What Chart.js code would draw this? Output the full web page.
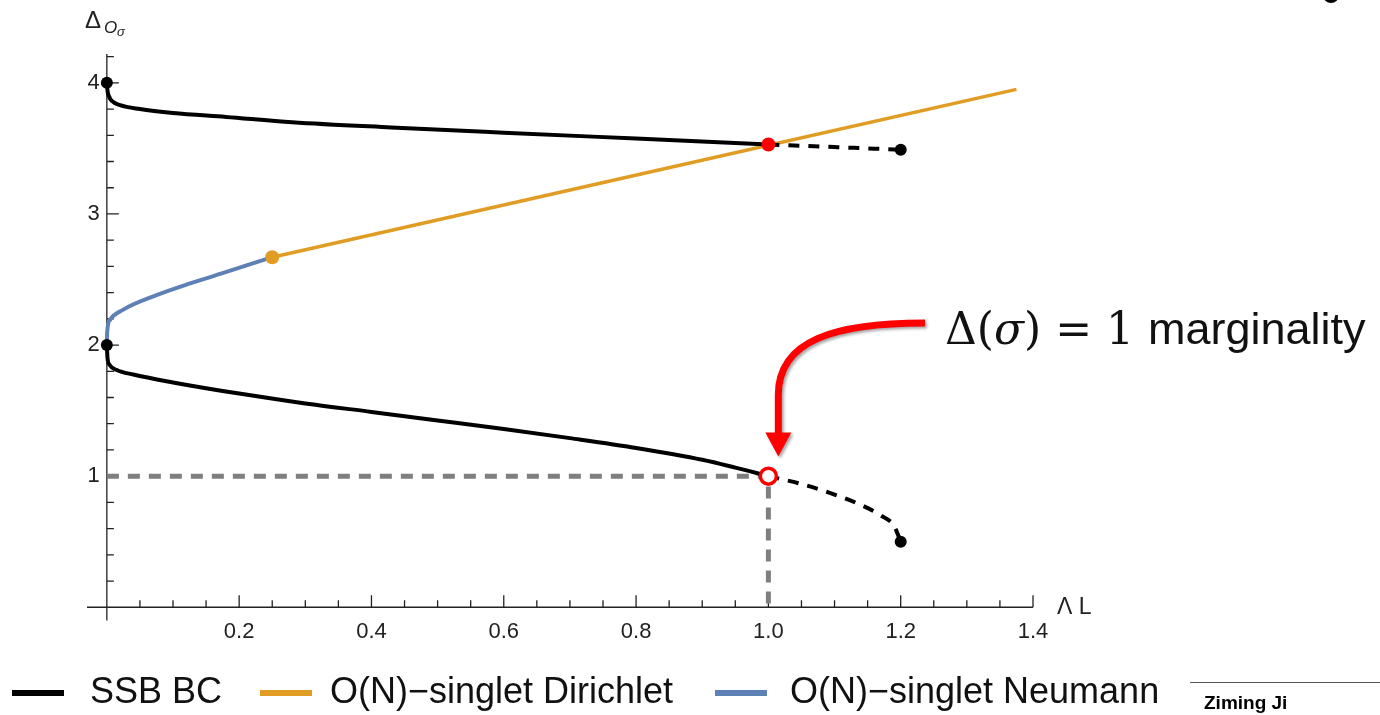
<!DOCTYPE html>
<html>
<head>
<meta charset="utf-8">
<script src="https://cdn.jsdelivr.net/npm/chart.js@4.4.1/dist/chart.umd.min.js"></script>
<style>
  html, body { margin: 0; padding: 0; background: #fff; }
  #wrap { width: 1380px; height: 715px; position: relative; }
</style>
</head>
<body>
<div id="wrap"><canvas id="plot" width="1380" height="715"></canvas></div>
<script>
// --- values ---
var ssbUpperX = [0, 0.001, 0.003, 0.008, 0.02, 0.05, 0.1, 0.18, 0.28, 0.43, 0.6, 0.8, 1.0];
var ssbUpperY = [4.0, 3.94, 3.9, 3.86, 3.83, 3.80, 3.77, 3.74, 3.70, 3.66, 3.62, 3.575, 3.53];
var ssbUpperDashX = [1.0, 1.1, 1.2];
var ssbUpperDashY = [3.53, 3.51, 3.49];

var ssbLowerX = [0, 0.001, 0.004, 0.015, 0.04, 0.1, 0.2, 0.3, 0.4, 0.5, 0.6, 0.7, 0.8, 0.9, 0.95, 1.0];
var ssbLowerY = [2.0, 1.9, 1.85, 1.81, 1.775, 1.715, 1.63, 1.555, 1.49, 1.425, 1.36, 1.29, 1.215, 1.125, 1.065, 1.0];
var ssbLowerDashX = [1.0, 1.05, 1.1, 1.14, 1.17, 1.19, 1.2];
var ssbLowerDashY = [1.0, 0.94, 0.86, 0.78, 0.70, 0.62, 0.5];

var neumannX = [0, 0.0005, 0.0045, 0.025, 0.075, 0.126, 0.176, 0.25];
var neumannY = [2.0, 2.1, 2.19, 2.27, 2.38, 2.47, 2.55, 2.67];

var dirichletX = [0.25, 1.375];
var dirichletY = [2.67, 3.95];

var blackDotX = [0, 0, 1.2, 1.2];
var blackDotY = [4, 2, 3.49, 0.5];

var marginalX = [0, 1, 1];
var marginalY = [1, 1, 0];

var xTickLabels = ["0.2", "0.4", "0.6", "0.8", "1.0", "1.2", "1.4"];
var yTickLabels = ["1", "2", "3", "4"];

var legendNames = ["SSB BC", "O(N)\u2212singlet Dirichlet", "O(N)\u2212singlet Neumann"];
var legendColors = ["#000000", "#E19C24", "#5E81B5"];

function pts(xs, ys) {
    var out = [];
    for (var i = 0; i < xs.length; i++) out.push({x: xs[i], y: ys[i]});
    return out;
}

var axesPlugin = {
    id: 'mmaAxes',
    beforeDatasetsDraw: function(chart) {
        var ctx = chart.ctx, xs = chart.scales.x, ys = chart.scales.y;
        var x0 = xs.getPixelForValue(0), y0 = ys.getPixelForValue(0);
        ctx.save();
        ctx.strokeStyle = '#222';
        ctx.lineWidth = 1.3;
        ctx.beginPath();
        ctx.moveTo(xs.getPixelForValue(-0.03), y0);
        ctx.lineTo(xs.getPixelForValue(1.4), y0);
        ctx.moveTo(x0, ys.getPixelForValue(-0.1));
        ctx.lineTo(x0, ys.getPixelForValue(4.22));
        // x ticks every 0.05, major every 0.2
        for (var k = 1; k <= 28; k++) {
            var v = k * 0.05, px = xs.getPixelForValue(v);
            var len = (k % 4 === 0) ? 12 : 7;
            ctx.moveTo(px, y0);
            ctx.lineTo(px, y0 - len);
        }
        // y ticks every 0.2, major every 1
        for (var j = 1; j <= 21; j++) {
            var w = j * 0.2, py = ys.getPixelForValue(w);
            var l2 = (j % 5 === 0) ? 12 : 7;
            ctx.moveTo(x0, py);
            ctx.lineTo(x0 + l2, py);
        }
        ctx.stroke();

        ctx.fillStyle = '#222';
        ctx.font = '22px "Liberation Sans", Arial, sans-serif';
        ctx.textAlign = 'center';
        ctx.textBaseline = 'top';
        xTickLabels.forEach(function(t) {
            ctx.fillText(t, xs.getPixelForValue(parseFloat(t)), y0 + 14);
        });
        ctx.textAlign = 'right';
        ctx.textBaseline = 'middle';
        yTickLabels.forEach(function(t) {
            ctx.fillText(t, x0 - 7, ys.getPixelForValue(parseFloat(t)));
        });

        // axis labels
        ctx.textAlign = 'left';
        ctx.textBaseline = 'alphabetic';
        ctx.font = '24px "Liberation Sans", Arial, sans-serif';
        ctx.fillText('\u0394', 85, 28);
        ctx.font = 'italic 17px "Liberation Sans", Arial, sans-serif';
        ctx.fillText('O', 104, 33);
        ctx.font = 'italic 13px "Liberation Sans", Arial, sans-serif';
        ctx.fillText('\u03c3', 117, 36);
        ctx.font = '23px "Liberation Sans", Arial, sans-serif';
        ctx.textBaseline = 'middle';
        ctx.fillText('\u039b L', xs.getPixelForValue(1.4) + 24, y0);
        ctx.restore();
    },
    afterDraw: function(chart) {
        var ctx = chart.ctx;
        ctx.save();
        // legend
        var lx = [12, 260, 715];
        var tx = [90, 330, 790];
        ctx.font = '36px "Liberation Sans", Arial, sans-serif';
        ctx.textBaseline = 'middle';
        ctx.textAlign = 'left';
        for (var i = 0; i < 3; i++) {
            ctx.strokeStyle = legendColors[i];
            ctx.lineWidth = 6;
            ctx.beginPath();
            ctx.moveTo(lx[i], 693);
            ctx.lineTo(lx[i] + 52, 693);
            ctx.stroke();
            ctx.fillStyle = '#111';
            ctx.fillText(legendNames[i], tx[i], 693);
        }
        // footer
        ctx.strokeStyle = '#555';
        ctx.lineWidth = 1;
        ctx.beginPath();
        ctx.moveTo(1190, 682.5);
        ctx.lineTo(1380, 682.5);
        ctx.stroke();
        ctx.fillStyle = '#000';
        ctx.font = 'bold 19px "Liberation Sans", Arial, sans-serif';
        ctx.fillText('Ziming Ji', 1204, 704);

        // corner blob
        ctx.beginPath();
        ctx.arc(1331, -5, 8, 0, Math.PI * 2);
        ctx.fill();

        // annotation arrow
        var xs = chart.scales.x, ys = chart.scales.y;
        var ax = xs.getPixelForValue(1.015);
        var tipY = ys.getPixelForValue(1.15);
        ctx.shadowColor = 'rgba(0,0,0,0.35)';
        ctx.shadowBlur = 3;
        ctx.shadowOffsetX = 2;
        ctx.shadowOffsetY = 2;
        ctx.strokeStyle = '#FF0000';
        ctx.fillStyle = '#FF0000';
        ctx.lineWidth = 7;
        ctx.beginPath();
        ctx.moveTo(925, 323);
        ctx.bezierCurveTo(835, 323, ax, 340, ax, 395);
        ctx.lineTo(ax, tipY - 22);
        ctx.stroke();
        ctx.beginPath();
        ctx.moveTo(ax - 13, tipY - 24);
        ctx.lineTo(ax + 13, tipY - 24);
        ctx.lineTo(ax, tipY);
        ctx.closePath();
        ctx.fill();
        ctx.shadowColor = 'transparent';

        // annotation text
        ctx.fillStyle = '#111';
        ctx.textBaseline = 'alphabetic';
        var bx = 945, by = 344;
        var parts = [
            ['\u0394(', '44px "DejaVu Serif", serif'],
            ['\u03c3', 'italic 44px "DejaVu Serif", serif'],
            [') = 1 ', '44px "DejaVu Serif", serif'],
            ['marginality', '45px "Liberation Sans", Arial, sans-serif']
        ];
        parts.forEach(function(p) {
            ctx.font = p[1];
            ctx.fillText(p[0], bx, by);
            bx += ctx.measureText(p[0]).width;
        });
        ctx.restore();
    }
};

var lineBase = { showLine: true, pointRadius: 0, clip: false, cubicInterpolationMode: 'monotone' };
function line(xs, ys, color, width, dash) {
    return Object.assign({}, lineBase, {
        data: pts(xs, ys), borderColor: color, borderWidth: width, borderDash: dash || []
    });
}

var ctx = document.getElementById('plot');
new Chart(ctx, {
    type: 'scatter',
    data: {
        datasets: [
            { data: pts([1.0], [1.0]), pointRadius: 8, pointBorderWidth: 3.5, pointBorderColor: '#FF0000', pointBackgroundColor: '#fff', showLine: false, clip: false },
            { data: pts([1.0], [3.53]), pointRadius: 7, pointBorderWidth: 0, pointBackgroundColor: '#FF0000', showLine: false, clip: false },
            { data: pts([0.25], [2.67]), pointRadius: 7, pointBorderWidth: 0, pointBackgroundColor: '#E19C24', showLine: false, clip: false },
            { data: pts(blackDotX, blackDotY), pointRadius: 6, pointBorderWidth: 0, pointBackgroundColor: '#000', showLine: false, clip: false },
            line(ssbUpperX, ssbUpperY, '#000', 4),
            line(ssbUpperDashX, ssbUpperDashY, '#000', 4, [11, 9]),
            line(ssbLowerX, ssbLowerY, '#000', 4),
            line(ssbLowerDashX, ssbLowerDashY, '#000', 4, [11, 9]),
            line(dirichletX, dirichletY, '#E19C24', 3.5),
            line(neumannX, neumannY, '#5E81B5', 4),
            Object.assign(line(marginalX, marginalY, '#7f7f7f', 5, [12, 9]), { cubicInterpolationMode: 'default', tension: 0 })
        ]
    },
    options: {
        responsive: false,
        animation: false,
        layout: { padding: { left: 87, right: 347, top: 54, bottom: 92 } },
        plugins: { legend: { display: false }, tooltip: { enabled: false } },
        scales: {
            x: { type: 'linear', min: -0.03, max: 1.4, display: false },
            y: { type: 'linear', min: -0.12, max: 4.22, display: false }
        }
    },
    plugins: [axesPlugin]
});
</script>
</body>
</html>
